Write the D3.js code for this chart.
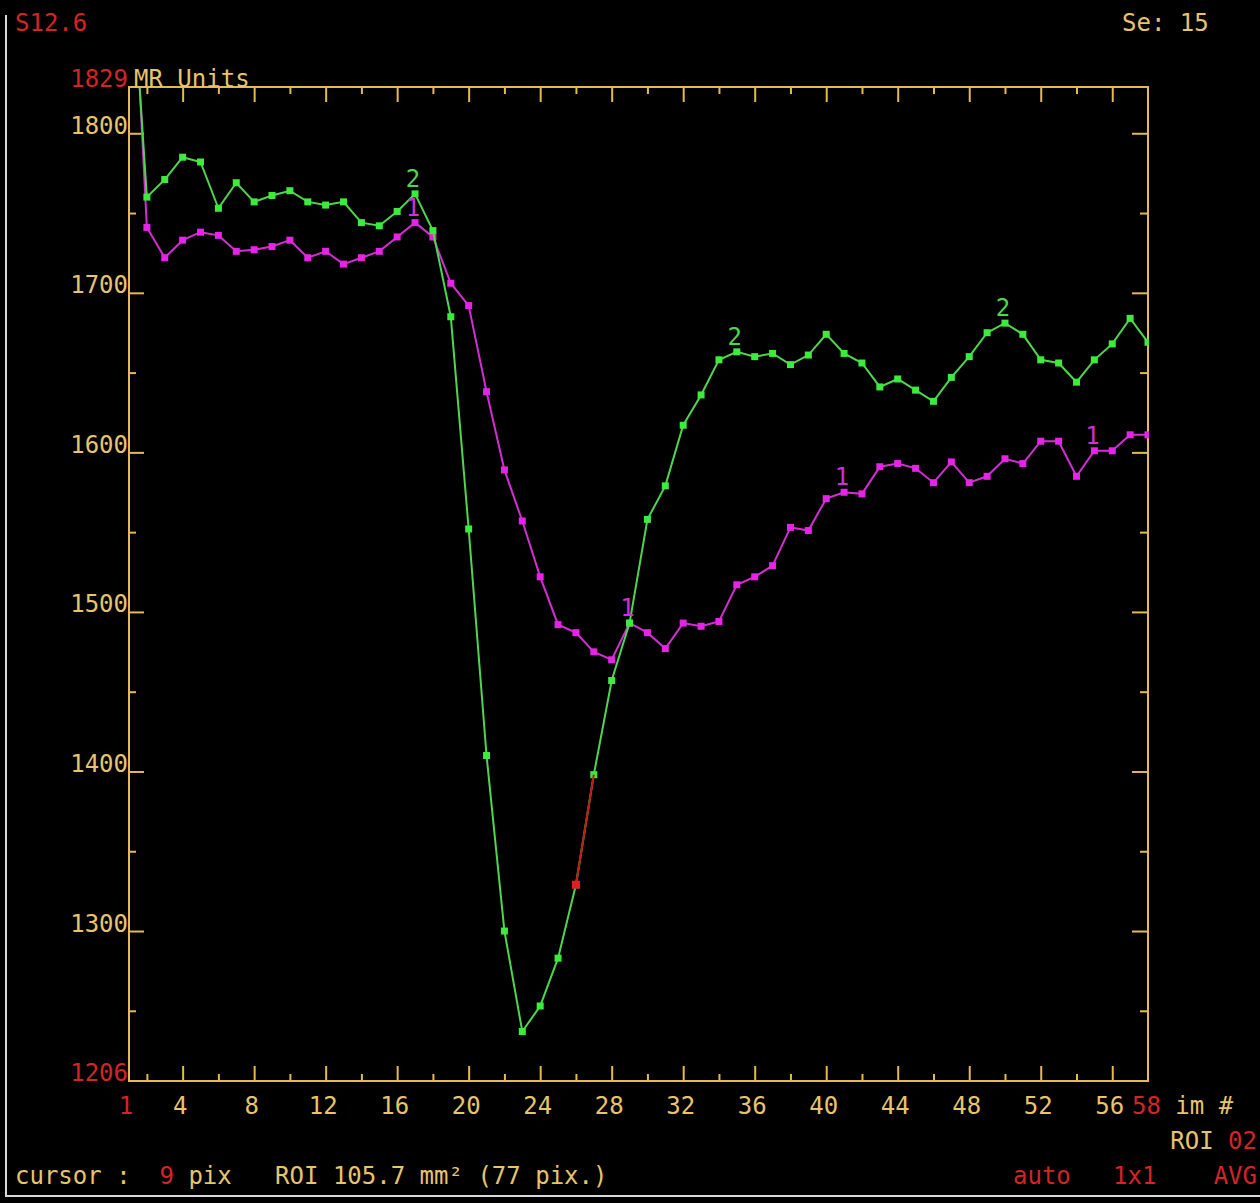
<!DOCTYPE html>
<html>
<head>
<meta charset="utf-8">
<script src="https://cdn.jsdelivr.net/npm/d3@7"></script>
<style>
  html, body { margin: 0; padding: 0; background: #000; }
  text { font-family: "DejaVu Sans Mono", "Liberation Mono", monospace; font-size: 24px; }
</style>
</head>
<body>
<div class="figure"></div>
<script>
// image number -> x, MR units -> y
// ROI 1 is magenta, ROI 2 is green

var images = d3.range(1, 59)

var roi1 = [1960, 1741, 1722, 1733, 1738, 1736, 1726, 1727, 1729, 1733,
            1722, 1726, 1718, 1722, 1726, 1735, 1744, 1735, 1706, 1692,
            1638, 1589, 1557, 1522, 1492, 1487, 1475, 1470, 1493, 1487,
            1477, 1493, 1491, 1494, 1517, 1522, 1529, 1553, 1551, 1571,
            1575, 1574, 1591, 1593, 1590, 1581, 1594, 1581, 1585, 1596,
            1593, 1607, 1607, 1585, 1601, 1601, 1611, 1611]

var roi2 = [1930, 1760, 1771, 1785, 1782, 1753, 1769, 1757, 1761, 1764,
            1757, 1755, 1757, 1744, 1742, 1751, 1762, 1739, 1685, 1552,
            1410, 1300, 1237, 1253, 1283, 1329, 1398, 1457, 1493, 1558,
            1579, 1617, 1636, 1658, 1663, 1660, 1662, 1655, 1661, 1674,
            1662, 1656, 1641, 1646, 1639, 1632, 1647, 1660, 1675, 1681,
            1674, 1658, 1656, 1644, 1658, 1668, 1684, 1669]

// images where the curve number is written
var roi1Marks = [17, 29, 41, 55]
var roi2Marks = [17, 35, 50]

// cursor segment on ROI 2
var cursorImages = [26, 27]

var xMajor = [4, 8, 12, 16, 20, 24, 28, 32, 36, 40, 44, 48, 52, 56]
var xMinor = [2, 6, 10, 14, 18, 22, 26, 30, 34, 38, 42, 46, 50, 54]
var yMajor = [1300, 1400, 1500, 1600, 1700, 1800]
var yMinor = [1250, 1350, 1450, 1550, 1650, 1750]

var yRange = [1206, 1829]
var xRange = [1, 58]

var dim = {w: 1260, h: 1203}
var frame = {left: 129, right: 1148, top: 87, bottom: 1081}

var col = {
    axis: "#e4ba52",
    text: "#e8c46c",
    red: "#d42424",
    green: "#4ed64e",
    greenDot: "#3cec3c",
    magenta: "#d22ed2",
    magentaDot: "#e624e6",
    border: "#d8d8d8",
}

var svg = d3.select("div.figure")
    .append("svg")
    .attr("width", dim.w)
    .attr("height", dim.h)
    .style("display", "block")

svg.append("rect")
    .attr("width", dim.w)
    .attr("height", dim.h)
    .attr("fill", "#000")

// white corner border
svg.append("path")
    .attr("d", "M6,15 V1196 H1260")
    .attr("fill", "none")
    .attr("stroke", col.border)
    .attr("stroke-width", 2)

var xScale = d3.scaleLinear().domain(xRange).range([frame.left, frame.right])
var yScale = d3.scaleLinear().domain(yRange).range([frame.bottom, frame.top])

// ---- ticks, all pointing into the plot
var tickAxis = function(axis, tx, ty) {
    var g = svg.append("g")
        .attr("transform", "translate(" + tx + "," + ty + ")")
        .call(axis.tickFormat(""))
    g.select(".domain").remove()
    g.selectAll("line").attr("stroke", col.axis).attr("stroke-width", 2)
    return g
}

tickAxis(d3.axisBottom(xScale).tickValues(xMajor).tickSize(-15), 0, frame.bottom)
tickAxis(d3.axisBottom(xScale).tickValues(xMinor).tickSize(-7), 0, frame.bottom)
tickAxis(d3.axisTop(xScale).tickValues(xMajor).tickSize(-15), 0, frame.top)
tickAxis(d3.axisTop(xScale).tickValues(xMinor).tickSize(-7), 0, frame.top)
tickAxis(d3.axisLeft(yScale).tickValues(yMajor).tickSize(-15), frame.left, 0)
tickAxis(d3.axisLeft(yScale).tickValues(yMinor).tickSize(-7), frame.left, 0)
tickAxis(d3.axisRight(yScale).tickValues(yMajor).tickSize(-16), frame.right, 0)
tickAxis(d3.axisRight(yScale).tickValues(yMinor).tickSize(-8), frame.right, 0)

svg.append("rect")
    .attr("x", frame.left)
    .attr("y", frame.top)
    .attr("width", frame.right - frame.left)
    .attr("height", frame.bottom - frame.top)
    .attr("fill", "none")
    .attr("stroke", col.axis)
    .attr("stroke-width", 2)

// ---- tick labels
var xLab = svg.append("g")
    .attr("transform", "translate(0," + frame.bottom + ")")
    .call(d3.axisBottom(xScale).tickValues(xMajor).tickFormat(d3.format("d"))
          .tickSize(0).tickPadding(0))
xLab.select(".domain").remove()
xLab.selectAll("text")
    .attr("y", 33).attr("dy", 0).attr("dx", -3)
    .attr("fill", col.text)
    .style("font-size", "24px")
    .style("font-family", "DejaVu Sans Mono")

var yLab = svg.append("g")
    .attr("transform", "translate(" + frame.left + ",0)")
    .call(d3.axisLeft(yScale).tickValues(yMajor).tickFormat(d3.format("d"))
          .tickSize(0).tickPadding(0))
yLab.select(".domain").remove()
yLab.selectAll("text")
    .attr("x", -1).attr("dy", 0)
    .attr("fill", col.text)
    .style("font-size", "24px")
    .style("font-family", "DejaVu Sans Mono")

var label = function(x, y, anchor, parts) {
    var t = svg.append("text")
        .attr("x", x).attr("y", y)
        .attr("text-anchor", anchor)
        .attr("xml:space", "preserve")
    parts.forEach(function(p) {
        t.append("tspan").attr("fill", p[1]).text(p[0])
    })
    return t
}

label(frame.left - 1, yScale(yRange[1]), "end", [[String(yRange[1]), col.red]])
label(frame.left - 1, yScale(yRange[0]), "end", [[String(yRange[0]), col.red]])
label(frame.left + 5, yScale(yRange[1]), "start", [["MR Units", col.text]])
label(xScale(xRange[0]) - 3, frame.bottom + 33, "middle", [[String(xRange[0]), col.red]])
label(1132, frame.bottom + 33, "start", [[String(xRange[1]), col.red], [" im #", col.text]])

label(15, 31, "start", [["S12.6", col.red]])
label(1122, 31, "start", [["Se: 15", col.text]])
label(1257, 1149, "end", [["ROI ", col.text], ["02", col.red]])
label(15, 1184, "start", [["cursor :  ", col.text], ["9", col.red],
                          [" pix   ROI 105.7 mm\u00b2 (77 pix.)", col.text]])
label(1013, 1184, "start", [["auto", col.red]])
label(1113, 1184, "start", [["1x1", col.red]])
label(1257, 1184, "end", [["AVG", col.red]])

// ---- curves
svg.append("clipPath")
    .attr("id", "plot-clip")
    .append("rect")
    .attr("x", frame.left + 1)
    .attr("y", frame.top + 1)
    .attr("width", frame.right - frame.left)
    .attr("height", frame.bottom - frame.top - 2)

var plot = svg.append("g").attr("clip-path", "url(#plot-clip)")

var line = d3.line()
    .x(function(d) { return xScale(d.im) })
    .y(function(d) { return yScale(d.v) })

var series = [
    {name: "1", values: roi1, stroke: col.magenta, dot: col.magentaDot, marks: roi1Marks},
    {name: "2", values: roi2, stroke: col.green, dot: col.greenDot, marks: roi2Marks},
]
series.forEach(function(s) {
    s.points = images.map(function(im, i) { return {im: im, v: s.values[i]} })
})

series.forEach(function(s) {
    plot.append("path")
        .datum(s.points)
        .attr("d", line)
        .attr("fill", "none")
        .attr("stroke", s.stroke)
        .attr("stroke-width", 2)

    plot.append("g")
        .selectAll("rect")
        .data(s.points.slice(1))
        .enter()
        .append("rect")
        .attr("x", function(d) { return xScale(d.im) - 3.5 })
        .attr("y", function(d) { return yScale(d.v) - 3.5 })
        .attr("width", 7)
        .attr("height", 7)
        .attr("fill", s.dot)
})

// cursor segment in red on ROI 2
var cursorPts = series[1].points.filter(function(d) {
    return cursorImages.indexOf(d.im) >= 0
})
plot.append("path")
    .datum(cursorPts)
    .attr("d", line)
    .attr("fill", "none")
    .attr("stroke", "#c41818")
    .attr("stroke-width", 2)
plot.append("rect")
    .attr("x", xScale(cursorPts[0].im) - 4)
    .attr("y", yScale(cursorPts[0].v) - 4)
    .attr("width", 8)
    .attr("height", 8)
    .attr("fill", "#e02020")

// curve numbers
series.forEach(function(s) {
    svg.append("g")
        .selectAll("text")
        .data(s.points.filter(function(d) { return s.marks.indexOf(d.im) >= 0 }))
        .enter()
        .append("text")
        .attr("x", function(d) { return xScale(d.im) - 2 })
        .attr("y", function(d) { return yScale(d.v) - 7 })
        .attr("text-anchor", "middle")
        .attr("fill", s.stroke)
        .text(s.name)
})
</script>
</body>
</html>
